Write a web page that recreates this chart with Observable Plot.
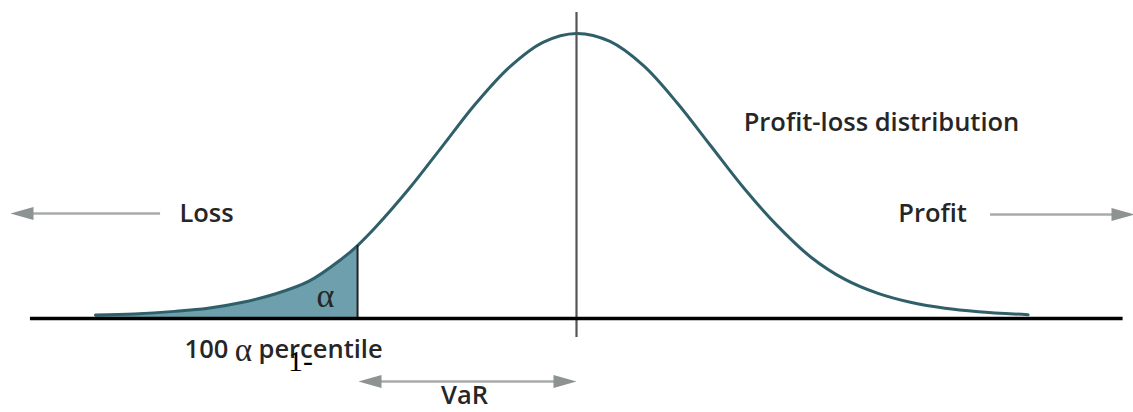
<!DOCTYPE html>
<html>
<head>
<meta charset="utf-8">
<script src="https://cdn.jsdelivr.net/npm/d3@7"></script>
<script src="https://cdn.jsdelivr.net/npm/@observablehq/plot@0.6"></script>
<style>
  html, body { margin: 0; padding: 0; background: #fff; }
  #chart svg { display: block; }
</style>
</head>
<body>
<div id="chart"></div>
<script>
// Profit-loss distribution, x in standard deviations from the mean, y relative density (peak = 1)
const curveZ = [-3.59, -3.3, -3.0, -2.75, -2.5, -2.25, -2.0, -1.75, -1.634, -1.5, -1.25, -1.0, -0.75, -0.5, -0.25, 0, 0.25, 0.5, 0.75, 1.0, 1.25, 1.5, 1.75, 2.0, 2.25, 2.5, 2.75, 3.0, 3.37];
const curveDensity = [0.012, 0.016, 0.025, 0.036, 0.056, 0.086, 0.13, 0.21, 0.256, 0.32, 0.455, 0.605, 0.755, 0.882, 0.969, 1.0, 0.972, 0.887, 0.757, 0.607, 0.457, 0.325, 0.215, 0.138, 0.088, 0.056, 0.036, 0.024, 0.013];

// Value-at-risk cutoff
const varZ = -1.634;
const varDensity = 0.256;

// Text labels
const labelText = ["Loss", "Profit", "Profit-loss distribution", "VaR"];
const labelZ = [-2.761, 2.657, 2.276, -0.836];
const labelY = [0.368, 0.368, 0.688, -0.272];

const curve = curveZ.map((z, i) => ({z, d: curveDensity[i]}));
const tail = curve.filter(p => p.z <= varZ);
const labels = labelText.map((t, i) => ({t, z: labelZ[i], y: labelY[i]}));

// arrowhead shapes (tip at origin)
const headRight = {draw(c) { c.moveTo(0, 0); c.lineTo(-23, -6.5); c.lineTo(-23, 6.5); c.closePath(); }};
const headLeft = {draw(c) { c.moveTo(0, 0); c.lineTo(23, -6.5); c.lineTo(23, 6.5); c.closePath(); }};

const sans = "'Open Sans', sans-serif";
const serif = "'Liberation Serif', serif";
const ink = "#262626";
const arrowLine = "#a9abab";
const arrowHead = "#8d9292";
const fs = 25.5;

const plot = Plot.plot({
  width: 1133,
  height: 412,
  marginLeft: 0,
  marginRight: 0,
  marginTop: 33,
  marginBottom: 94,
  x: {domain: [-4.2985, 4.1567], axis: null},
  y: {domain: [0, 1], axis: null},
  marks: [
    Plot.areaY(tail, {x: "z", y: "d", fill: "#6d9fac", curve: "catmull-rom"}),
    Plot.line(curve, {x: "z", y: "d", stroke: "#2f5f69", strokeWidth: 3, curve: "catmull-rom"}),
    Plot.ruleX([varZ], {y1: 0, y2: varDensity, stroke: "#222", strokeWidth: 2}),
    Plot.ruleX([0], {y1: -0.067, y2: 1.074, stroke: "#555", strokeWidth: 2.2}),
    Plot.ruleY([0], {x1: -4.075, x2: 4.079, stroke: "#000", strokeWidth: 3.5}),
    // Loss arrow
    Plot.ruleY([0.368], {x1: -4.06, x2: -3.104, stroke: arrowLine, strokeWidth: 2.5}),
    Plot.dot([{z: -4.224, y: 0.368}], {x: "z", y: "y", symbol: headLeft, fill: arrowHead, stroke: "none"}),
    // Profit arrow
    Plot.ruleY([0.365], {x1: 3.09, x2: 4.0, stroke: arrowLine, strokeWidth: 2.5}),
    Plot.dot([{z: 4.164, y: 0.365}], {x: "z", y: "y", symbol: headRight, fill: arrowHead, stroke: "none"}),
    // VaR arrow
    Plot.ruleY([-0.221], {x1: -1.5, x2: -0.13, stroke: arrowLine, strokeWidth: 2.5}),
    Plot.dot([{z: -1.627, y: -0.221}], {x: "z", y: "y", symbol: headLeft, fill: arrowHead, stroke: "none"}),
    Plot.dot([{z: 0, y: -0.221}], {x: "z", y: "y", symbol: headRight, fill: arrowHead, stroke: "none"}),
    // labels
    Plot.text(labels, {x: "z", y: "y", text: "t", fontSize: fs, fontWeight: 600, fontFamily: sans, fill: ink}),
    Plot.text(["100"], {x: -2.925, y: -0.109, text: d => d, textAnchor: "start", fontSize: fs, fontWeight: 600, fontFamily: sans, fill: ink}),
    Plot.text(["α"], {x: -2.485, y: -0.112, text: d => d, fontSize: 33, fontFamily: serif, fill: ink}),
    Plot.text(["percentile"], {x: -2.373, y: -0.109, text: d => d, textAnchor: "start", fontSize: fs, fontWeight: 600, fontFamily: sans, fill: ink}),
    Plot.text(["1-"], {x: -2.06, y: -0.15, text: d => d, fontSize: 30, fontFamily: serif, fill: "#000"}),
    Plot.text(["α"], {x: -1.873, y: 0.077, text: d => d, fontSize: 34, fontFamily: serif, fill: ink})
  ]
});
document.getElementById("chart").append(plot);
</script>
</body>
</html>
